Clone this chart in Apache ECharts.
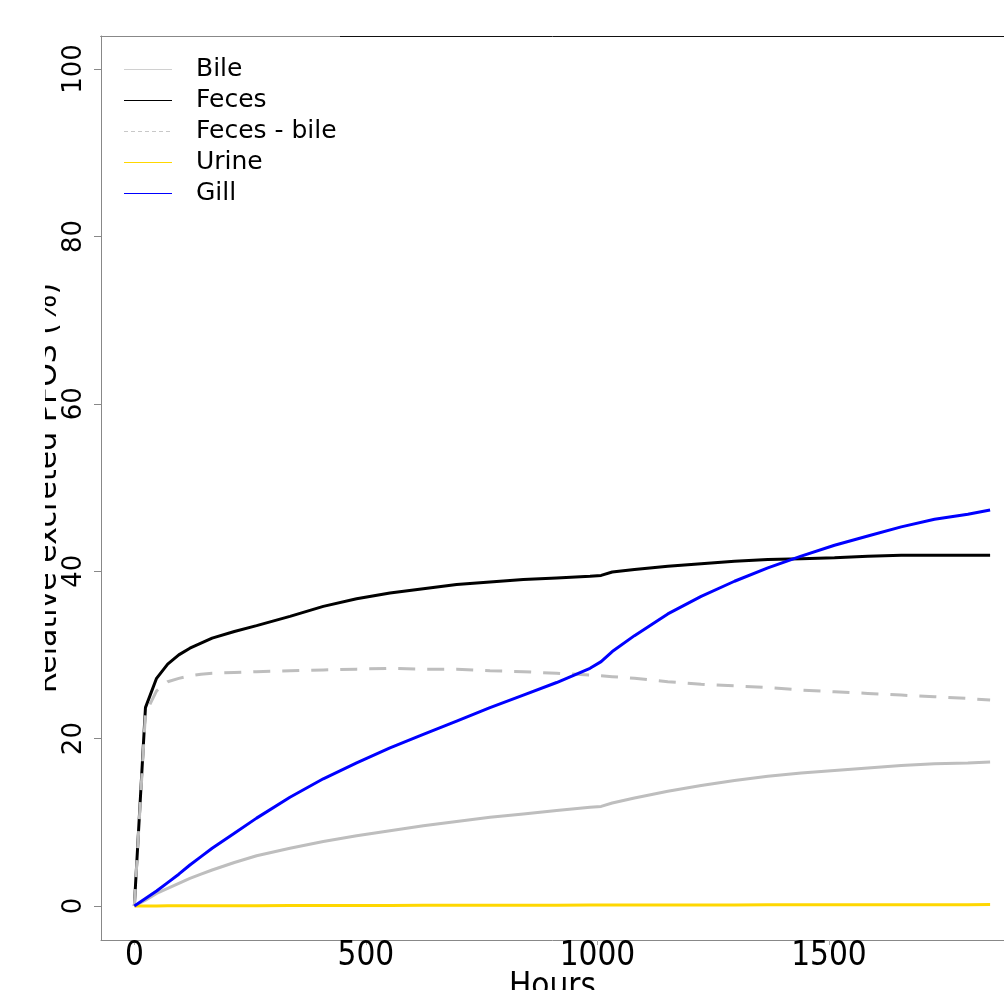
<!DOCTYPE html>
<html>
<head>
<meta charset="utf-8">
<title>Relative excreted PFOS</title>
<script src="https://cdn.jsdelivr.net/npm/echarts@6.0.0/dist/echarts.min.js"></script>
<style>
    html, body {
        margin: 0;
        padding: 0;
        background: #fff;
    }
    #chart {
        width: 1004px;
        height: 990px;
    }
</style>
</head>
<body>
<div id="chart"></div>
<script>
    // sampling times (hours), shared by every curve
    const hours = [0, 24, 48, 72, 96, 120, 144, 168, 216, 264, 336, 408, 480, 552, 624, 696, 768,
        840, 912, 984, 1008, 1032, 1080, 1152, 1224, 1296, 1368, 1440, 1512, 1584, 1656, 1728, 1800, 1848];

    const bile = [0, 0.7, 1.5, 2.1, 2.7, 3.3, 3.8, 4.3, 5.2, 6.0, 6.9, 7.7, 8.4, 9.0, 9.6, 10.1, 10.6,
        11.0, 11.4, 11.8, 11.9, 12.3, 12.9, 13.7, 14.4, 15.0, 15.5, 15.9, 16.2, 16.5, 16.8, 17.0, 17.1, 17.2];
    const feces = [0, 23.7, 27.2, 28.9, 30.0, 30.8, 31.4, 32.0, 32.8, 33.5, 34.6, 35.8, 36.7, 37.4, 37.9, 38.4, 38.7,
        39.0, 39.2, 39.4, 39.5, 39.9, 40.2, 40.6, 40.9, 41.2, 41.4, 41.5, 41.6, 41.8, 41.9, 41.9, 41.9, 41.9];
    const fecesMinusBile = [0, 23.0, 25.7, 26.8, 27.2, 27.5, 27.7, 27.8, 27.9, 28.0, 28.1, 28.2, 28.3, 28.4, 28.3, 28.3, 28.1,
        28.0, 27.8, 27.6, 27.5, 27.4, 27.2, 26.8, 26.5, 26.3, 26.1, 25.8, 25.6, 25.4, 25.2, 25.0, 24.8, 24.6];
    const urine = [0, 0.01, 0.01, 0.02, 0.02, 0.03, 0.03, 0.03, 0.04, 0.04, 0.05, 0.06, 0.06, 0.07, 0.08, 0.08, 0.09,
        0.10, 0.10, 0.11, 0.11, 0.11, 0.12, 0.12, 0.13, 0.13, 0.14, 0.14, 0.15, 0.15, 0.16, 0.16, 0.16, 0.17];
    const gill = [0, 0.9, 1.8, 2.8, 3.8, 4.9, 5.9, 6.9, 8.7, 10.5, 13.0, 15.2, 17.1, 18.9, 20.5, 22.1, 23.7,
        25.2, 26.7, 28.4, 29.2, 30.4, 32.3, 34.9, 37.0, 38.8, 40.4, 41.8, 43.1, 44.2, 45.3, 46.2, 46.8, 47.3];

    const xTicks = [0, 500, 1000, 1500];
    const yTicks = [0, 20, 40, 60, 80, 100];

    const font = 'DejaVu Sans';

    // legend keys: a thin line across the key box (tiny dots at the corners keep the box size)
    const solidKey = 'path://M0,0L0.01,0L0,0.01Z M0,12L48,12L48,13L0,13Z M0,25L0.01,25L0,24.99Z';
    const dashKey = 'path://M0,0L0.01,0L0,0.01Z M0,12L4,12L4,13L0,13Z M7,12L11,12L11,13L7,13Z M14,12L18,12L18,13L14,13Z'
        + ' M21,12L25,12L25,13L21,13Z M28,12L32,12L32,13L28,13Z M35,12L39,12L39,13L35,13Z M42,12L46,12L46,13L42,13Z'
        + ' M48,25L47.99,25L48,24.99Z';

    function pairs(values) {
        return hours.map((h, i) => [h, values[i]]);
    }

    function line(name, values, color, type) {
        return {
            name: name,
            type: 'line',
            data: pairs(values),
            symbol: 'none',
            smooth: false,
            lineStyle: {color: color, width: 3, type: type || 'solid'},
            itemStyle: {color: color}
        };
    }

    function key(name, icon, color) {
        return {
            name: name,
            icon: icon,
            itemStyle: {color: color, borderWidth: 0, borderColor: color},
            lineStyle: {color: color, width: 0.01, type: 'solid'}
        };
    }

    const chart = echarts.init(document.getElementById('chart'), null, {renderer: 'canvas'});

    chart.setOption({
        animation: false,
        backgroundColor: '#fff',
        grid: {left: 101, top: 36, right: 0, bottom: 50, outerBoundsMode: 'none'},
        legend: {
            orient: 'vertical',
            left: 124,
            top: 57,
            padding: 0,
            itemWidth: 48,
            itemHeight: 25,
            itemGap: 6,
            textStyle: {fontFamily: font, fontSize: 25, color: '#000', padding: [0, 0, 0, 19]},
            data: [
                key('Bile', solidKey, '#d0d0d0'),
                key('Feces', solidKey, '#000000'),
                key('Feces - bile', dashKey, '#c8c8c8'),
                key('Urine', solidKey, '#ffd700'),
                key('Gill', solidKey, '#0000ff')
            ]
        },
        xAxis: [{
            type: 'value',
            min: -72,
            max: 1878,
            splitLine: {show: false},
            axisLine: {onZero: false, lineStyle: {color: '#888', width: 1}},
            axisTick: {show: true, length: 5, customValues: xTicks, lineStyle: {color: '#aaa'}},
            axisLabel: {
                customValues: xTicks,
                formatter: v => String(v),
                margin: 0,
                fontFamily: 'DejaVu Sans Condensed',
                fontSize: 33,
                color: '#000'
            },
            name: 'Hours',
            nameLocation: 'middle',
            nameMoveOverlap: false,
            nameGap: 31,
            nameTextStyle: {fontFamily: 'DejaVu Sans Condensed', fontSize: 33, color: '#000'}
        }, {
            // top border of the box
            type: 'value',
            position: 'top',
            min: -72,
            max: 1878,
            splitLine: {show: false},
            axisLine: {onZero: false, lineStyle: {color: '#111', width: 1}},
            axisTick: {show: false},
            axisLabel: {show: false}
        }],
        yAxis: {
            type: 'value',
            min: -4.06,
            max: 103.94,
            splitLine: {show: false},
            axisLine: {show: true, onZero: false, lineStyle: {color: '#888', width: 1}},
            axisTick: {show: true, length: 7, customValues: yTicks, lineStyle: {color: '#888'}},
            axisLabel: {
                customValues: yTicks,
                rotate: 90,
                margin: 14,
                fontFamily: font,
                fontSize: 26,
                color: '#000'
            },
            name: 'Relative excreted PFOS (%)',
            nameLocation: 'middle',
            nameRotate: 90,
            nameMoveOverlap: false,
            nameGap: 38,
            nameTextStyle: {fontFamily: font, fontSize: 30, color: '#000'}
        },
        graphic: [
            // grey start of the top border
            {type: 'line', shape: {x1: 101, y1: 36.5, x2: 340, y2: 36.5}, style: {stroke: '#888', lineWidth: 1}, z: 100},
            // the axis title is cut off on its left side
            {type: 'rect', shape: {x: 0, y: 260, width: 45, height: 460}, style: {fill: '#fff'}, z: 100}
        ],
        series: [
            line('Bile', bile, '#bebebe'),
            line('Feces', feces, '#000000'),
            line('Feces - bile', fecesMinusBile, '#bebebe', [17, 12]),
            line('Urine', urine, '#ffd700'),
            line('Gill', gill, '#0000ff')
        ]
    });
</script>
</body>
</html>
